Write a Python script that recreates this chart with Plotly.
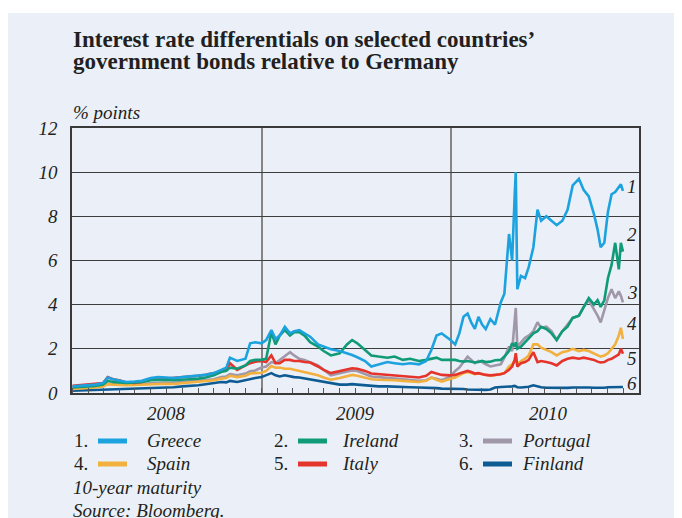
import plotly.graph_objects as go

# ---------------- data ----------------
dates_2008 = ["2008-01-02", "2008-01-15", "2008-02-01", "2008-02-15", "2008-03-01", "2008-03-10",
              "2008-03-20", "2008-04-01", "2008-04-15", "2008-05-01", "2008-05-15", "2008-06-01",
              "2008-06-15", "2008-07-01", "2008-07-15", "2008-08-01", "2008-08-15", "2008-09-01",
              "2008-09-15", "2008-10-01", "2008-10-15", "2008-10-25", "2008-11-01", "2008-11-15",
              "2008-12-01", "2008-12-10", "2008-12-20"]
dates_2009 = ["2009-01-01", "2009-01-10", "2009-01-20", "2009-01-28", "2009-02-05", "2009-02-15",
              "2009-02-25", "2009-03-05", "2009-03-15", "2009-03-25", "2009-04-05", "2009-04-20",
              "2009-05-01", "2009-05-15", "2009-06-01", "2009-06-15", "2009-06-25", "2009-07-05",
              "2009-07-20", "2009-08-01", "2009-08-15", "2009-09-01", "2009-09-15", "2009-10-01",
              "2009-10-15", "2009-11-01", "2009-11-15", "2009-11-25", "2009-12-05", "2009-12-15"]
dates_2010 = ["2010-01-01", "2010-01-10", "2010-01-18", "2010-01-26", "2010-02-03", "2010-02-10",
              "2010-02-17", "2010-02-24", "2010-03-03", "2010-03-10", "2010-03-19", "2010-03-28",
              "2010-04-08", "2010-04-15", "2010-04-24", "2010-04-30", "2010-05-05", "2010-05-07",
              "2010-05-10", "2010-05-17", "2010-05-25", "2010-06-01", "2010-06-10", "2010-06-18",
              "2010-06-25", "2010-07-05", "2010-07-15", "2010-07-25", "2010-08-05", "2010-08-15",
              "2010-08-25", "2010-09-06", "2010-09-15", "2010-09-25", "2010-10-05", "2010-10-12",
              "2010-10-18", "2010-10-25", "2010-11-01", "2010-11-08", "2010-11-15", "2010-11-22",
              "2010-11-26", "2010-11-30"]
dates = dates_2008 + dates_2009 + dates_2010

greece = [0.30, 0.32, 0.35, 0.38, 0.45, 0.70, 0.62, 0.58, 0.50, 0.52,
          0.55, 0.68, 0.72, 0.70, 0.68, 0.72, 0.75, 0.78, 0.82, 0.90,
          1.05, 1.15, 1.60, 1.45, 1.55, 2.25, 2.30,
          2.25, 2.40, 2.85, 2.45, 2.60, 3.00, 2.70, 2.80, 2.85, 2.70,
          2.55, 2.20, 2.10, 1.98, 1.90, 1.80, 1.72, 1.62, 1.45, 1.20,
          1.30, 1.40, 1.35, 1.30, 1.35, 1.30, 1.45, 1.95, 2.60, 2.70,
          2.40, 2.20, 2.70, 3.45, 3.60, 3.20, 2.90, 3.45, 3.10, 2.90,
          3.35, 3.10, 4.10, 4.50, 7.20, 6.00, 9.00, 10.00, 4.70, 5.30,
          5.20, 5.70, 6.60, 8.30, 7.80, 8.00, 7.80, 7.60, 7.80, 8.30,
          9.40, 9.70, 9.20, 8.90, 8.10, 7.40, 6.60, 6.80, 8.20, 9.00,
          9.10, 9.30, 9.45, 9.15]
ireland = [0.25, 0.27, 0.30, 0.32, 0.38, 0.55, 0.50, 0.48, 0.45, 0.48,
           0.50, 0.58, 0.60, 0.60, 0.58, 0.62, 0.62, 0.65, 0.70, 0.80,
           0.95, 1.00, 1.15, 1.10, 1.25, 1.45, 1.50,
           1.50, 1.55, 2.75, 2.20, 2.60, 2.85, 2.60, 2.75, 2.75, 2.60,
           2.30, 2.10, 1.90, 1.70, 1.80, 2.20, 2.40, 2.25, 1.95, 1.70,
           1.65, 1.60, 1.65, 1.50, 1.55, 1.45, 1.50, 1.55, 1.60, 1.50,
           1.50, 1.50, 1.45, 1.42, 1.45, 1.40, 1.38, 1.40, 1.45, 1.40,
           1.42, 1.48, 1.50, 1.65, 1.90, 2.25, 2.10, 2.30, 2.00, 2.10,
           2.30, 2.50, 2.70, 2.80, 3.00, 2.90, 2.70, 2.40, 2.80, 3.00,
           3.40, 3.50, 3.90, 4.30, 4.00, 4.20, 3.90, 4.20, 5.20, 5.80,
           6.80, 5.60, 6.80, 6.40]
portugal = [0.25, 0.26, 0.28, 0.30, 0.33, 0.42, 0.40, 0.38, 0.38, 0.40,
            0.42, 0.45, 0.48, 0.47, 0.46, 0.50, 0.52, 0.55, 0.58, 0.62,
            0.72, 0.75, 0.85, 0.80, 0.88, 0.98, 1.02,
            1.15, 1.20, 1.40, 1.35, 1.50, 1.70, 1.85, 1.70, 1.55, 1.50,
            1.40, 1.25, 1.05, 0.80, 0.90, 0.98, 1.02, 1.00, 0.85, 0.75,
            0.72, 0.68, 0.66, 0.62, 0.60, 0.55, 0.58, 0.70, 0.65, 0.58,
            0.75, 1.00, 1.15, 1.40, 1.65, 1.50, 1.35, 1.45, 1.40, 1.30,
            1.20, 1.25, 1.30, 1.60, 2.10, 1.90, 3.20, 3.85, 2.10, 2.30,
            2.50, 2.60, 2.80, 3.20, 2.95, 3.00, 2.80, 2.40, 2.80, 3.10,
            3.40, 3.50, 3.90, 4.20, 3.80, 3.50, 3.20, 3.80, 4.30, 4.70,
            4.30, 4.60, 4.40, 4.10]
spain = [0.18, 0.20, 0.22, 0.25, 0.30, 0.40, 0.38, 0.36, 0.35, 0.36,
         0.38, 0.40, 0.42, 0.42, 0.41, 0.45, 0.47, 0.50, 0.55, 0.58,
         0.65, 0.68, 0.78, 0.72, 0.78, 0.88, 0.90,
         0.92, 1.00, 1.22, 1.15, 1.15, 1.10, 1.10, 1.05, 1.00, 0.95,
         0.88, 0.80, 0.70, 0.60, 0.68, 0.75, 0.82, 0.78, 0.70, 0.62,
         0.60, 0.60, 0.58, 0.55, 0.52, 0.50, 0.55, 0.70, 0.60, 0.52,
         0.65, 0.70, 0.80, 0.90, 0.95, 0.90, 0.85, 0.88, 0.85, 0.80,
         0.78, 0.80, 0.85, 0.90, 1.20, 1.30, 1.50, 1.70, 1.30, 1.45,
         1.55, 1.70, 2.20, 2.20, 2.05, 1.95, 1.85, 1.70, 1.85, 1.90,
         2.00, 1.90, 1.95, 1.90, 1.80, 1.70, 1.65, 1.70, 1.80, 2.00,
         2.20, 2.60, 2.95, 2.45]
italy = [0.33, 0.35, 0.38, 0.40, 0.45, 0.72, 0.62, 0.58, 0.48, 0.46,
         0.50, 0.66, 0.68, 0.66, 0.68, 0.72, 0.73, 0.78, 0.83, 0.90,
         1.00, 1.10, 1.35, 1.05, 1.25, 1.35, 1.42,
         1.45, 1.40, 1.70, 1.35, 1.35, 1.50, 1.50, 1.45, 1.45, 1.40,
         1.38, 1.20, 1.05, 0.90, 1.00, 1.05, 1.12, 1.10, 1.00, 0.88,
         0.85, 0.82, 0.80, 0.76, 0.74, 0.70, 0.78, 0.95, 0.88, 0.82,
         0.80, 0.82, 0.88, 0.95, 1.00, 0.95, 0.88, 0.90, 0.85, 0.82,
         0.80, 0.82, 0.85, 0.90, 1.05, 1.20, 1.50, 1.80, 1.20, 1.35,
         1.40, 1.50, 1.85, 1.40, 1.45, 1.40, 1.35, 1.25, 1.45, 1.55,
         1.60, 1.55, 1.60, 1.55, 1.50, 1.42, 1.38, 1.40, 1.50, 1.55,
         1.65, 1.75, 2.00, 1.78]
finland = [0.10, 0.11, 0.12, 0.14, 0.15, 0.17, 0.17, 0.18, 0.18, 0.20,
           0.21, 0.23, 0.25, 0.25, 0.26, 0.30, 0.32, 0.35, 0.40, 0.45,
           0.50, 0.48, 0.55, 0.50, 0.58, 0.65, 0.68,
           0.72, 0.80, 0.90, 0.80, 0.75, 0.80, 0.75, 0.72, 0.70, 0.66,
           0.62, 0.55, 0.50, 0.45, 0.38, 0.38, 0.40, 0.38, 0.35, 0.32,
           0.30, 0.30, 0.28, 0.27, 0.26, 0.25, 0.24, 0.25, 0.22, 0.20,
           0.20, 0.21, 0.20, 0.18, 0.16, 0.15, 0.14, 0.14, 0.15, 0.14,
           0.16, 0.25, 0.27, 0.28, 0.26, 0.30, 0.32, 0.30, 0.26, 0.25,
           0.26, 0.28, 0.35, 0.30, 0.26, 0.24, 0.23, 0.22, 0.24, 0.23,
           0.25, 0.26, 0.27, 0.25, 0.24, 0.23, 0.25, 0.24, 0.26, 0.27,
           0.28, 0.26, 0.28, 0.27]

countries = ["Greece", "Ireland", "Portugal", "Spain", "Italy", "Finland"]
series = [greece, ireland, portugal, spain, italy, finland]
y_ticks = [0, 2, 4, 6, 8, 10, 12]
year_labels = ["2008", "2009", "2010"]
year_mid = ["2008-07-02", "2009-07-02", "2010-07-10"]
year_starts = ["2009-01-01", "2010-01-01"]

# ---------------- styling ----------------
colors = ["#1CA2DF", "#0F9B77", "#A098A9", "#F2B03E", "#E4342B", "#0E5B93"]
panel = "#EBF0F8"
ink = "#231F20"
serif = "Liberation Serif"

# the page adds an 8px body margin: the figure is drawn 8px right and down
PAGE = 8
W, H = 682 - PAGE, 518 - PAGE
L, T = 72 - PAGE, 128 - PAGE       # plot area top-left (figure coords)
PW, PH = 567, 265                   # plot area size
R, B = W - L - PW, H - T - PH

# helpers take screen (reference) pixel positions
X0, Y0 = 72, 393  # screen position of plot origin


def fx(x):
    return (x - X0) / PW


def fy(y):
    return (Y0 - y) / PH


fig = go.Figure()
draw_order = [5, 2, 3, 4, 1, 0]
for i in draw_order:
    fig.add_trace(go.Scatter(
        x=dates, y=series[i], mode="lines", name=countries[i],
        line=dict(color=colors[i], width=2.6), showlegend=False,
        hoverinfo="skip"))

shapes = []
# panel background (white strip on top)
shapes.append(dict(type="rect", xref="paper", yref="paper", layer="below",
                   x0=fx(PAGE - 2), x1=fx(684), y0=fy(522), y1=fy(13),
                   fillcolor=panel, line=dict(width=0)))

annotations = []
title_font = dict(family=serif, size=23, color=ink, weight="bold")
ital = dict(family=serif, size=19, color=ink, style="italic")
upright = dict(family=serif, size=19, color=ink)

annotations.append(dict(text="Interest rate differentials on selected countries’",
                        xref="paper", yref="paper", x=fx(71), y=fy(39),
                        xanchor="left", yanchor="middle", showarrow=False,
                        font=title_font))
annotations.append(dict(text="government bonds relative to Germany",
                        xref="paper", yref="paper", x=fx(71), y=fy(61.5),
                        xanchor="left", yanchor="middle", showarrow=False,
                        font=title_font))
annotations.append(dict(text="% points", xref="paper", yref="paper",
                        x=fx(71), y=fy(112), xanchor="left", yanchor="middle",
                        showarrow=False, font=ital))
for lab, xm in zip(year_labels, year_mid):
    annotations.append(dict(text=lab, xref="x", yref="paper", x=xm, y=fy(413),
                            xanchor="center", yanchor="middle", showarrow=False,
                            font=ital))
end_label_y = [9.35, 7.2, 4.55, 3.15, 1.55, 0.45]
for k in range(6):
    annotations.append(dict(text=str(k + 1), xref="paper", yref="y",
                            x=fx(632), y=end_label_y[k], xanchor="center",
                            yanchor="middle", showarrow=False, font=ital))

leg_cols = [72, 272, 457]
leg_rows = [440, 463]
leg_text_dx = [73, 68, 63]
for k in range(6):
    r, c = divmod(k, 3)
    x0 = leg_cols[c]
    yy = leg_rows[r]
    annotations.append(dict(text=f"{k + 1}.", xref="paper", yref="paper",
                            x=fx(x0), y=fy(yy), xanchor="left", yanchor="middle",
                            showarrow=False, font=upright))
    shapes.append(dict(type="line", xref="paper", yref="paper",
                       x0=fx(x0 + 26), x1=fx(x0 + 55), y0=fy(yy + 1), y1=fy(yy + 1),
                       line=dict(color=colors[k], width=5)))
    annotations.append(dict(text=countries[k], xref="paper", yref="paper",
                            x=fx(x0 + leg_text_dx[c]), y=fy(yy), xanchor="left",
                            yanchor="middle", showarrow=False, font=ital))
annotations.append(dict(text="10-year maturity", xref="paper", yref="paper",
                        x=fx(71), y=fy(487), xanchor="left", yanchor="middle",
                        showarrow=False, font=ital))
annotations.append(dict(text="Source: Bloomberg.", xref="paper", yref="paper",
                        x=fx(71), y=fy(510), xanchor="left", yanchor="middle",
                        showarrow=False, font=ital))

fig.update_layout(
    width=W, height=H,
    margin=dict(l=L, r=R, t=T, b=B, pad=0),
    paper_bgcolor="white", plot_bgcolor="rgba(0,0,0,0)",
    shapes=shapes, annotations=annotations,
    xaxis=dict(type="date", range=["2008-01-01", "2010-12-31"],
               tickmode="array", tickvals=year_starts, showticklabels=False,
               ticks="", showgrid=True, gridcolor="#858585", gridwidth=1.5,
               showline=True, linecolor="#3a3a3a", linewidth=1.5, mirror=True,
               zeroline=False,
               minor=dict(ticks="inside", ticklen=5, tickcolor="#555555",
                          tickwidth=1, dtick="M1", tick0="2008-01-01",
                          showgrid=False)),
    yaxis=dict(range=[0, 12], tickmode="array", tickvals=y_ticks,
               ticktext=[str(v) for v in y_ticks],
               showgrid=True, gridcolor="#3d3d3d", gridwidth=1,
               showline=True, linecolor="#3a3a3a", linewidth=1.5, mirror=True,
               zeroline=False, ticks="", ticklabelstandoff=9,
               tickfont=ital),
)

fig.write_html("out.html")
